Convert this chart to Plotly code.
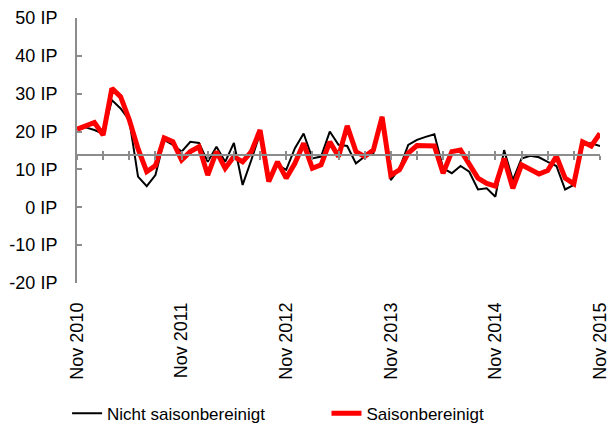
import plotly.graph_objects as go

months = []
mn = ["Jan", "Feb", "Mär", "Apr", "Mai", "Jun", "Jul", "Aug", "Sep", "Okt", "Nov", "Dez"]
y, m = 2010, 10
for _ in range(61):
    months.append(f"{mn[m]} {y}")
    m += 1
    if m == 12:
        m = 0
        y += 1

nicht_saisonbereinigt = [
    20.9, 21.1, 20.4, 19.4, 28.3, 26.1, 23.0, 8.1, 5.6, 8.5,
    17.8, 16.5, 14.7, 17.3, 17.0, 12.0, 16.0, 12.0, 17.0, 5.9,
    12.5, 19.5, 8.1, 11.2, 9.9, 15.6, 19.5, 12.9, 13.4, 20.0,
    16.5, 16.2, 11.6, 13.4, 14.3, 23.9, 7.2, 10.3, 16.5, 17.8,
    18.6, 19.3, 10.3, 9.0, 10.9, 9.4, 4.7, 5.0, 2.8, 15.1,
    7.2, 12.9, 13.6, 13.2, 12.0, 10.9, 4.7, 5.9, 16.9, 16.9,
    16.2,
]
saisonbereinigt = [
    20.6, 21.5, 22.4, 19.1, 31.4, 29.2, 23.1, 15.5, 9.4, 11.0,
    18.3, 17.3, 12.5, 14.7, 16.0, 8.5, 14.7, 10.3, 13.4, 12.0,
    14.7, 20.4, 6.8, 12.0, 7.7, 11.6, 16.9, 10.3, 11.2, 17.3,
    13.4, 21.5, 14.7, 13.4, 15.1, 23.9, 8.5, 9.9, 14.3, 16.3,
    16.3, 16.2, 9.0, 14.7, 15.1, 11.2, 7.7, 6.3, 5.6, 12.9,
    5.0, 11.2, 9.9, 8.8, 9.7, 13.5, 7.7, 6.2, 17.3, 16.2,
    19.5,
]

y_tickvals = [-20, -10, 0, 10, 20, 30, 40, 50]
y_ticktext = ["-20 IP", "-10 IP", "0 IP", "10 IP", "20 IP", "30 IP", "40 IP", "50 IP"]
x_tickvals = [0, 12, 24, 36, 48, 60]
x_ticktext = ["Nov 2010", "Nov 2011", "Nov 2012", "Nov 2013", "Nov 2014", "Nov 2015"]
axis_cross = 13.8

x_idx = list(range(len(months)))
GRAY = "#8c8c8c"
FONT = "Liberation Sans, Arial, sans-serif"

fig = go.Figure()
fig.add_trace(go.Scatter(
    x=x_idx, y=nicht_saisonbereinigt, mode="lines", name="Nicht saisonbereinigt",
    line=dict(color="black", width=2), text=months, hoverinfo="text+y", legend="legend",
))
fig.add_trace(go.Scatter(
    x=x_idx, y=saisonbereinigt, mode="lines", name="Saisonbereinigt",
    line=dict(color="#ff0000", width=5), text=months, hoverinfo="text+y", legend="legend2",
))
# invisible traces so the crossing axes are drawn
for ax in ["x2", "x3"]:
    fig.add_trace(go.Scatter(x=[0, 60], y=[axis_cross, axis_cross], xaxis=ax, mode="lines",
                             line=dict(width=0), showlegend=False, hoverinfo="skip"))

ypos = (axis_cross - y_tickvals[0]) / (y_tickvals[-1] - y_tickvals[0])

leg_common = dict(orientation="h", yanchor="top", xanchor="left", y=-0.425,
                  font=dict(size=17), bgcolor="rgba(0,0,0,0)")

fig.update_layout(
    width=609, height=424,
    margin=dict(l=77, r=9, t=18, b=141, autoexpand=False),
    paper_bgcolor="white", plot_bgcolor="white",
    font=dict(family=FONT, size=18, color="black"),
    showlegend=True,
    legend=dict(x=-0.019, **leg_common),
    legend2=dict(x=0.477, **leg_common),
    xaxis=dict(range=[0, 60], tickvals=x_tickvals, ticktext=x_ticktext, tickangle=-90,
               showline=False, showgrid=False, zeroline=False, ticks="",
               ticklabelstandoff=15, automargin=False, ticklabeloverflow="allow"),
    xaxis2=dict(range=[0, 60], overlaying="x", anchor="free", position=ypos,
                showline=True, linecolor=GRAY, linewidth=2, showgrid=False, zeroline=False,
                tickmode="linear", tick0=0, dtick=3, ticks="outside", ticklen=4,
                tickcolor=GRAY, tickwidth=2, showticklabels=False, automargin=False),
    xaxis3=dict(range=[0, 60], overlaying="x", anchor="free", position=ypos,
                showline=False, showgrid=False, zeroline=False,
                tickmode="linear", tick0=0, dtick=3, ticks="inside", ticklen=4,
                tickcolor=GRAY, tickwidth=2, showticklabels=False, automargin=False),
    yaxis=dict(range=[-20, 50], tickvals=y_tickvals, ticktext=y_ticktext,
               showline=True, linecolor=GRAY, linewidth=2, showgrid=False, zeroline=False,
               ticks="inside", ticklen=5, tickcolor=GRAY, tickwidth=2, ticklabelstandoff=14,
               automargin=False),
)

fig.write_html("out.html", config={"displayModeBar": False},
               post_script="document.body.style.margin='0';document.body.style.overflow='hidden';")
